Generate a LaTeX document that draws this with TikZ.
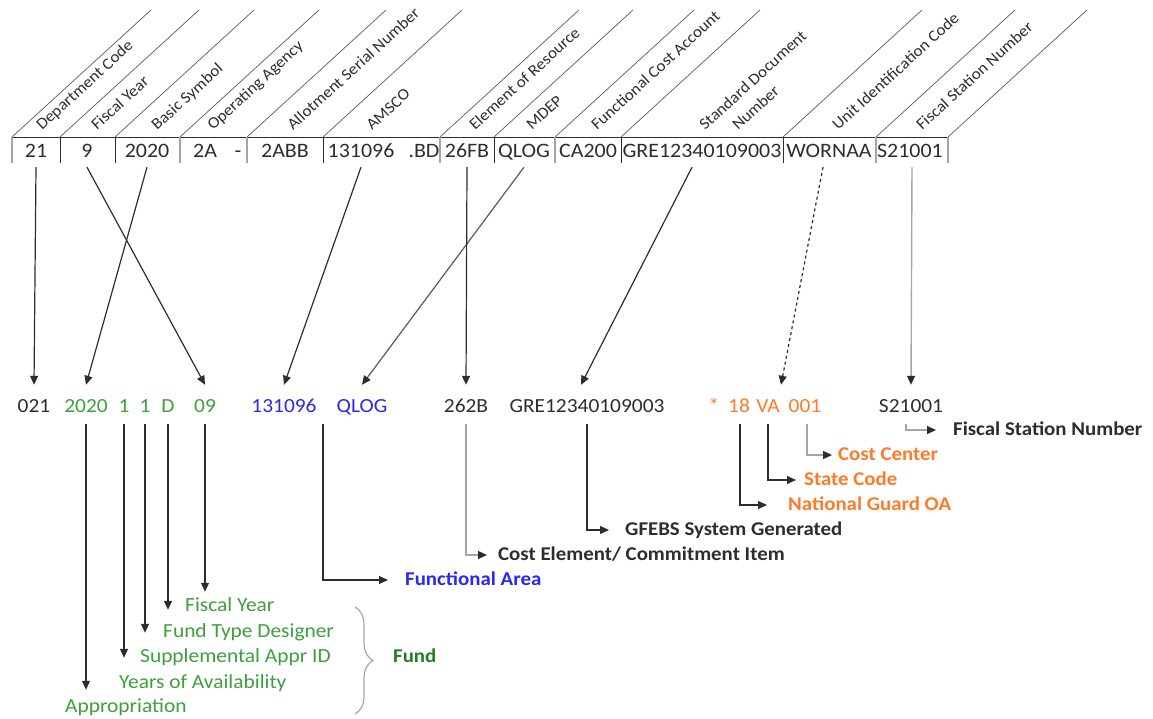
\documentclass[tikz,border=0pt]{standalone}
\usepackage{fontspec}
\setmainfont{Carlito}[FakeStretch=1.07]
\usetikzlibrary{arrows.meta,decorations.pathreplacing,calc}
\definecolor{ink}{RGB}{45,45,45}
\definecolor{fundgreen}{RGB}{60,160,60}
\definecolor{funddark}{RGB}{35,125,35}
\definecolor{areablue}{RGB}{40,40,245}
\definecolor{guardorange}{RGB}{255,122,40}
\definecolor{rulegrey}{RGB}{165,165,165}
\definecolor{diaggrey}{RGB}{90,90,90}
\begin{document}
\begin{tikzpicture}[x=1pt,y=-1pt,
  cell/.style={font=\fontsize{20.5}{22}\selectfont, text=ink, anchor=base,
    inner sep=0pt, text height=13pt, text depth=9pt},
  head/.style={font=\fontsize{16}{18}\selectfont, text=ink, rotate=42.4,
    anchor=base west, inner sep=0pt},
  mid/.style={font=\fontsize{20}{22}\selectfont, text=ink, anchor=base,
    inner sep=0pt, text height=27pt, text depth=12pt},
  lbl/.style={font=\fontsize{19.5}{22}\selectfont\bfseries, text=ink, anchor=west,
    inner sep=0pt, text height=14pt, text depth=4pt},
  fundlbl/.style={font=\fontsize{20}{22}\selectfont, text=fundgreen, anchor=west,
    inner sep=0pt, text height=14pt, text depth=4pt},
  tip/.style={-{Triangle[length=9pt,width=8pt,color=ink]}},
  arr/.style={draw=ink, line width=1.2pt, tip},
  garr/.style={draw=rulegrey, line width=1.4pt, tip},
]
\useasboundingbox (0,0) rectangle (1153,719);

% ---- header table: top rule, cell separators and slanted heading rules
\draw[ink, line width=0.9pt] (12,137) -- (948,137);
\foreach \x in {12,60,115,180,247,323,440,494,555,621,783,876,948}
  \draw[diaggrey, line width=0.7pt] (\x,137) -- ++(139,-127);
\foreach \x in {60,115,323,494,621,783}
  \draw[ink, line width=1pt] (\x,137) -- (\x,163);
\foreach \x in {12,180,247,440,555,876,948}
  \draw[rulegrey, line width=1.3pt] (\x,137) -- (\x,163);

% ---- slanted headings
\node[head] (hDept) at (42,131) {Department Code};
\node[head] (hFY)   at (97,131) {Fiscal Year};
\node[head] (hBS)   at (157,131) {Basic Symbol};
\node[head] (hOA)   at (213,131) {Operating Agency};
\node[head] (hASN)  at (293,131) {Allotment Serial Number};
\node[head] (hAMS)  at (372,131) {AMSCO};
\node[head] (hEOR)  at (475,131) {Element of Resource};
\node[head] (hMDEP) at (532,131) {MDEP};
\node[head] (hFCA)  at (597,131) {Functional Cost Account};
\node[head] (hSDN)  at (705,131) {Standard Document};
\node[head] (hSDN2) at (738,131) {Number};
\node[head] (hUIC)  at (838,131) {Unit Identification Code};
\node[head] (hFSN)  at (922,131) {Fiscal Station Number};

% ---- cell values
\node[cell] (t21)   at (36,158) {21};
\node[cell] (t9)    at (87,158) {9};
\node[cell] (t2020) at (147,158) {2020};
\node[cell, anchor=base west] (t2A) at (193,158) {2A};
\node[cell] (tdash) at (238,158) {-};
\node[cell] (t2ABB) at (285,158) {2ABB};
\node[cell] (t131)  at (361,158) {131096};
\node[cell] (tBD)   at (424,158) {.BD};
\node[cell] (t26FB) at (467,158) {26FB};
\node[cell] (tQLOG) at (524,158) {QLOG};
\node[cell] (tCA)   at (588,158) {CA200};
\node[cell] (tGRE)  at (702,158) {GRE12340109003};
\node[cell] (tWOR)  at (829,158) {WORNAA};
\node[cell] (tS21)  at (910,158) {S21001};

% ---- middle row
\node[mid] (m021)  at (34,412) {021};
\node[mid, text=fundgreen] (m2020) at (86,412) {2020};
\node[mid, text=fundgreen] (m1a)   at (124,412) {1};
\node[mid, text=fundgreen] (m1b)   at (145,412) {1};
\node[mid, text=fundgreen] (mD)    at (168,412) {D};
\node[mid, text=fundgreen] (m09)   at (205,412) {09};
\node[mid, text=areablue] (m131)   at (284,412) {131096};
\node[mid, text=areablue] (mQLOG)  at (362,412) {QLOG};
\node[mid] (m262)  at (466,412) {262B};
\node[mid] (mGRE)  at (587,412) {GRE12340109003};
\node[mid, text=guardorange] (mStar) at (714,412) {*};
\node[mid, text=guardorange] (m18)   at (739,412) {18};
\node[mid, text=guardorange] (mVA)   at (768,412) {VA};
\node[mid, text=guardorange] (m001)  at (805,412) {001};
\node[mid] (mS21)  at (911,412) {S21001};
\coordinate (faTop) at (323,424);

% ---- labels below
\node[lbl] (lFS) at (953,430) {Fiscal Station Number};
\node[lbl, text=guardorange] (lCC) at (838,455) {Cost Center};
\node[lbl, text=guardorange] (lSC) at (804,480) {State Code};
\node[lbl, text=guardorange] (lNG) at (788,505) {National Guard OA};
\node[lbl] (lGF) at (625,530) {GFEBS System Generated};
\node[lbl] (lCE) at (498,555) {Cost Element/ Commitment Item};
\node[lbl, text=areablue] (lFA) at (405,580) {Functional Area};

\node[fundlbl] (lFY)  at (185,606) {Fiscal Year};
\node[fundlbl] (lFTD) at (163,632) {Fund Type Designer};
\node[fundlbl] (lSup) at (140,657) {Supplemental Appr ID};
\node[fundlbl] (lYrs) at (119,683) {Years of Availability};
\node[fundlbl] (lApp) at (65,707) {Appropriation};
\node[lbl, text=funddark] (lFund) at (393,657) {Fund};

\draw[rulegrey, line width=1.2pt, decorate, decoration={brace, amplitude=18pt}]
  (355,607) -- (355,714);

% ---- connectors from header cells to the middle row
\draw[arr] (t21.south) -- (m021.north);
\draw[arr] (t9.south) -- (m09.north);
\draw[arr] (t2020.south) -- (m2020.north);
\draw[arr] (t131.south) -- (m131.north);
\draw[arr, draw=diaggrey] (tQLOG.south) -- (mQLOG.north);
\draw[arr] (t26FB.south) -- (m262.north);
\draw[arr] ([xshift=-10pt]tGRE.south) -- ([xshift=-6pt]mGRE.north);
\draw[arr, dashed] ([xshift=-6pt]tWOR.south) -- ([xshift=13pt]mVA.north);
\draw[garr] ([xshift=2pt]tS21.south) -- (mS21.north);

% ---- fund breakdown
\draw[arr, shorten >=8pt]  (m2020.south) -- (m2020.south |- lApp.north);
\draw[arr, shorten >=16pt] (m1a.south) -- (m1a.south |- lYrs.north);
\draw[arr, shorten >=15pt] (m1b.south) -- (m1b.south |- lSup.north);
\draw[arr, shorten >=13pt] (mD.south) -- (mD.south |- lFTD.north);
\draw[arr, shorten >=5pt]  (m09.south) -- (m09.south |- lFY.north);

% ---- elbow connectors to descriptions
\draw[arr, shorten >=17pt] (faTop) |- (lFA.west);
\draw[garr, shorten >=11pt] (m262.south) |- (lCE.west);
\draw[arr, shorten >=16pt] (mGRE.south) |- (lGF.west);
\draw[arr, shorten >=21pt] ([xshift=1pt]m18.south) |- (lNG.west);
\draw[arr, shorten >=8pt] (mVA.south) |- (lSC.west);
\draw[garr, shorten >=6pt] ([xshift=2pt]m001.south) |- (lCC.west);
\draw[garr, shorten >=17pt] ([xshift=-5pt]mS21.south) |- (lFS.west);
\end{tikzpicture}
\end{document}
